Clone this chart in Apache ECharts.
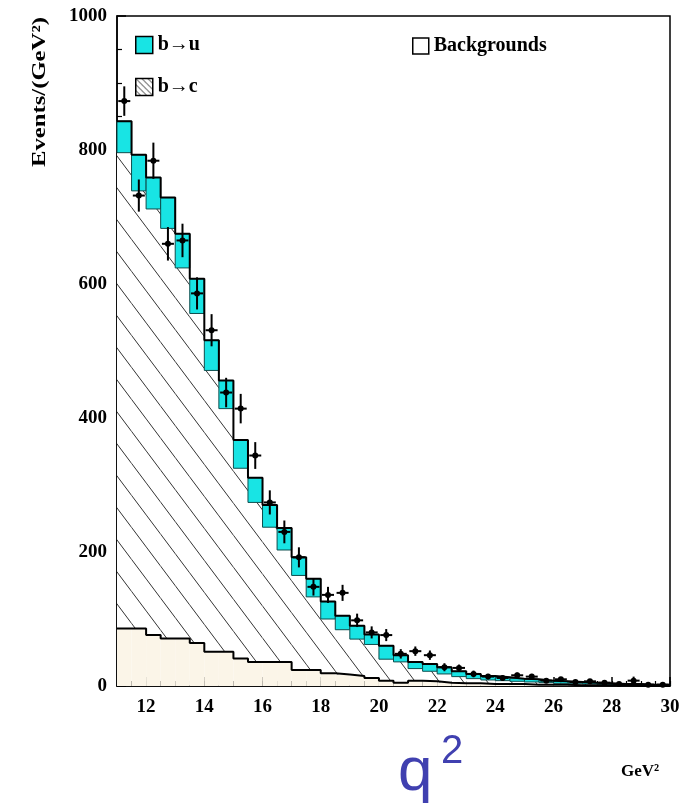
<!DOCTYPE html>
<html>
<head>
<meta charset="utf-8">
<title>q2 spectrum</title>
<script src="https://cdn.jsdelivr.net/npm/echarts@6.0.0/dist/echarts.min.js"></script>
<style>
html, body { margin: 0; padding: 0; background: #fff; }
#main { width: 683px; height: 803px; }
</style>
</head>
<body>
<div id="main"></div>
<script>
// bin edges in GeV^2 (0.5 wide bins)
var binEdges = [11, 11.5, 12, 12.5, 13, 13.5, 14, 14.5, 15, 15.5,
    16, 16.5, 17, 17.5, 18, 18.5, 19, 19.5, 20, 20.5,
    21, 21.5, 22, 22.5, 23, 23.5, 24, 24.5, 25, 25.5,
    26, 26.5, 27, 27.5, 28, 28.5, 29, 29.5, 30];
// stacked MC contributions per bin (events / bin)
var bkg = [86, 86, 76, 71, 71, 64, 51, 51, 41, 36,
    36, 36, 24, 24, 19, 17, 15, 12, 8, 5,
    8, 7, 5, 4, 4, 3, 3, 3, 2, 2,
    2, 1, 1, 1, 1, 0, 0, 0];
var bc = [710, 653, 636, 612, 553, 492, 420, 363, 284, 238,
    201, 167, 141, 109, 81, 67, 55, 50, 32, 31,
    18, 15, 13, 10, 7, 6, 5, 4, 4, 3,
    2, 3, 2, 1, 1, 2, 1, 1];
var bu = [47, 54, 47, 46, 51, 52, 45, 42, 42, 37,
    33, 33, 27, 27, 26, 21, 20, 15, 20, 10,
    10, 11, 10, 8, 7, 6, 5, 4, 4, 3,
    3, 2, 2, 2, 1, 1, 1, 1];
// data points and their errors
var dataVal = [873, 732, 784, 660, 665, 586, 531, 438, 414, 344,
    274, 230, 192, 148, 136, 139, 98, 80, 76, 48,
    52, 46, 28, 27, 18, 14, 12, 16, 14, 8,
    10, 6, 7, 5, 3, 8, 2, 2];
var dataErr = [22, 24, 27, 25, 25, 24, 24, 22, 22, 20,
    18, 17, 15, 13, 12, 12, 10, 9, 9, 7,
    7, 7, 6, 5, 5, 4, 4, 4, 4, 3,
    3, 3, 3, 2, 2, 6, 2, 2];
var xTicks = [12, 14, 16, 18, 20, 22, 24, 26, 28, 30];

var serif = '"Liberation Serif", "DejaVu Serif", serif';
var cyan = '#18e4e4';

function makeHatch(w, h, lw) {
    var c = document.createElement('canvas');
    c.width = w;
    c.height = h;
    var ctx = c.getContext('2d');
    ctx.fillStyle = '#fff';
    ctx.fillRect(0, 0, w, h);
    ctx.strokeStyle = '#333';
    ctx.lineWidth = lw;
    ctx.beginPath();
    ctx.moveTo(-w, -h); ctx.lineTo(2 * w, 2 * h);
    ctx.moveTo(0, -h); ctx.lineTo(2 * w, h);
    ctx.moveTo(-w, 0); ctx.lineTo(w, 2 * h);
    ctx.stroke();
    return { image: c, repeat: 'repeat' };
}
var hatch = makeHatch(24, 32, 1);
var hatchSmall = makeHatch(6, 6, 1);

// build stacked boxes: [lo edge, hi edge, base, top]
function boxes(lower, part) {
    var out = [];
    for (var i = 0; i < part.length; i++) {
        out.push([binEdges[i], binEdges[i + 1], lower[i], lower[i] + part[i]]);
    }
    return out;
}
var zero = bkg.map(function () { return 0; });
var bkgTop = bkg.slice();
var bcTop = bkg.map(function (v, i) { return v + bc[i]; });
var totTop = bcTop.map(function (v, i) { return v + bu[i]; });

function outline(vals) {
    var out = [];
    for (var i = 0; i < vals.length; i++) out.push([binEdges[i], vals[i]]);
    out.push([binEdges[vals.length], vals[vals.length - 1]]);
    return out;
}

function boxRenderer(style) {
    return function (params, api) {
        var p0 = api.coord([api.value(0), api.value(3)]);
        var p1 = api.coord([api.value(1), api.value(2)]);
        return {
            type: 'rect',
            shape: { x: p0[0], y: p0[1], width: p1[0] - p0[0], height: p1[1] - p0[1] },
            style: style
        };
    };
}

function renderPoint(params, api) {
    var c = api.coord([api.value(0), api.value(1)]);
    var lo = api.coord([api.value(0), api.value(1) - api.value(2)]);
    var hi = api.coord([api.value(0), api.value(1) + api.value(2)]);
    return {
        type: 'group',
        children: [
            { type: 'line', shape: { x1: c[0], y1: lo[1], x2: c[0], y2: hi[1] }, style: { stroke: '#000', lineWidth: 2 } },
            { type: 'line', shape: { x1: c[0] - 6, y1: c[1], x2: c[0] + 6, y2: c[1] }, style: { stroke: '#000', lineWidth: 2 } },
            { type: 'circle', shape: { cx: c[0], cy: c[1], r: 3 }, style: { fill: '#000' } }
        ]
    };
}

var points = dataVal.map(function (v, i) {
    return [(binEdges[i] + binEdges[i + 1]) / 2, v, dataErr[i]];
});

var myChart = echarts.init(document.getElementById('main'));
var labelFont = { fontFamily: serif, fontWeight: 'bold', fontSize: 19, color: '#000' };

var option = {
    animation: false,
    grid: {
        left: 117, right: 13, top: 16, bottom: 117,
        show: true, borderColor: '#000', borderWidth: 1.5
    },
    legend: [{
        data: [
            { name: 'b→u', itemStyle: { color: cyan, borderColor: '#000', borderWidth: 1.5 } },
            { name: 'b→c', itemStyle: { color: hatchSmall, borderColor: '#000', borderWidth: 1.5 } }
        ],
        orient: 'vertical', left: 130, top: 30,
        itemWidth: 17, itemHeight: 17, itemGap: 22, icon: 'rect',
        selectedMode: false,
        textStyle: { fontFamily: serif, fontWeight: 'bold', fontSize: 20, color: '#000' }
    }, {
        data: [
            { name: 'Backgrounds', itemStyle: { color: '#fff', borderColor: '#000', borderWidth: 1.5 } }
        ],
        left: 407, top: 31,
        itemWidth: 16, itemHeight: 16, icon: 'rect',
        selectedMode: false,
        textStyle: { fontFamily: serif, fontWeight: 'bold', fontSize: 20, color: '#000' }
    }],
    xAxis: [{
        type: 'value', min: 11, max: 30, position: 'bottom',
        axisLine: { show: true, lineStyle: { color: '#000', width: 1.5 } },
        axisTick: { show: true, inside: true, length: 9, customValues: xTicks, lineStyle: { color: '#000', width: 1.5 } },
        axisLabel: Object.assign({ customValues: xTicks, margin: 12 }, labelFont),
        splitLine: { show: false }
    }, {
        type: 'value', min: 11, max: 30, position: 'bottom',
        axisLine: { show: false },
        axisTick: { show: true, inside: true, length: 5, customValues: binEdges, lineStyle: { color: '#000', width: 1.2 } },
        axisLabel: { show: false },
        splitLine: { show: false }
    }],
    yAxis: {
        type: 'value', min: 0, max: 1000, interval: 200,
        axisLine: { show: true, lineStyle: { color: '#000', width: 1.5 } },
        axisTick: { show: true, inside: true, length: 9, lineStyle: { color: '#000', width: 1.5 } },
        minorTick: { show: true, splitNumber: 4, length: 5, lineStyle: { color: '#000', width: 1.2 } },
        axisLabel: Object.assign({
            margin: 10,
            formatter: function (v) { return String(v); }
        }, labelFont),
        splitLine: { show: false }
    },
    graphic: [{
        type: 'text', x: 40, y: 92, rotation: Math.PI / 2, scaleX: 1.3,
        style: { text: 'Events/(GeV²)', font: 'bold 19px ' + serif, fill: '#000', align: 'center', verticalAlign: 'middle' }
    }, {
        type: 'text', x: 621, y: 772,
        style: { text: 'GeV²', font: 'bold 17px ' + serif, fill: '#000', align: 'left', verticalAlign: 'middle' }
    }, {
        type: 'text', x: 398, y: 773,
        style: { text: 'q', font: '62px "Liberation Sans", Arial, sans-serif', fill: '#4040b0', align: 'left', verticalAlign: 'middle' }
    }, {
        type: 'text', x: 441, y: 752,
        style: { text: '2', font: '40px "Liberation Sans", Arial, sans-serif', fill: '#4040b0', align: 'left', verticalAlign: 'middle' }
    }],
    series: [{
        name: 'Backgrounds', type: 'custom',
        itemStyle: { color: '#fbf5e8' },
        renderItem: boxRenderer({ fill: '#fbf5e8' }),
        encode: { x: [0, 1], y: [2, 3] },
        data: boxes(zero, bkg)
    }, {
        name: 'b→c', type: 'custom',
        itemStyle: { color: hatch },
        renderItem: boxRenderer({ fill: hatch }),
        encode: { x: [0, 1], y: [2, 3] },
        data: boxes(bkgTop, bc)
    }, {
        name: 'b→u', type: 'custom',
        itemStyle: { color: cyan },
        renderItem: boxRenderer({ fill: cyan, stroke: '#0d4d4d', lineWidth: 1 }),
        encode: { x: [0, 1], y: [2, 3] },
        data: boxes(bcTop, bu)
    }, {
        name: 'bkgOutline', type: 'line', step: 'end', symbol: 'none', silent: true,
        lineStyle: { color: '#000', width: 2 },
        data: outline(bkgTop)
    }, {
        name: 'totalOutline', type: 'line', step: 'end', symbol: 'none', silent: true,
        lineStyle: { color: '#000', width: 2 },
        data: outline(totTop)
    }, {
        name: 'Data', type: 'custom', z: 10,
        renderItem: renderPoint,
        encode: { x: 0, y: 1 },
        data: points
    }]
};

myChart.setOption(option);
</script>
</body>
</html>
